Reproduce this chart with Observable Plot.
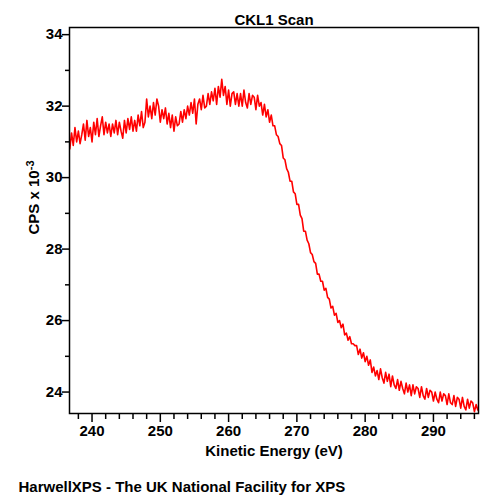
<!DOCTYPE html>
<html>
<head>
<meta charset="utf-8">
<script src="https://cdn.jsdelivr.net/npm/d3@7"></script>
<script src="https://cdn.jsdelivr.net/npm/@observablehq/plot@0.6"></script>
<style>
  html, body { margin: 0; padding: 0; background: #fff; }
</style>
</head>
<body>
<div id="chart"></div>
<script>
const titleText = "CKL1 Scan";
const xLabel = "Kinetic Energy (eV)";
const yLabelMain = "CPS x 10";
const yLabelSup = "-3";
const caption = "HarwellXPS - The UK National Facility for XPS";

const xMajor = [240, 250, 260, 270, 280, 290];
const xMinor = [238, 242, 244, 246, 248, 252, 254, 256, 258, 262, 264, 266, 268, 272, 274, 276, 278, 282, 284, 286, 288, 292, 294, 296];
const yMajor = [24, 26, 28, 30, 32, 34];
const yMinor = [25, 27, 29, 31, 33];

const energy = [
  236.75,237,237.25,237.5,
  237.75,238,238.25,238.5,
  238.75,239,239.25,239.5,
  239.75,240,240.25,240.5,
  240.75,241,241.25,241.5,
  241.75,242,242.25,242.5,
  242.75,243,243.25,243.5,
  243.75,244,244.25,244.5,
  244.75,245,245.25,245.5,
  245.75,246,246.25,246.5,
  246.75,247,247.25,247.5,
  247.75,248,248.25,248.5,
  248.75,249,249.25,249.5,
  249.75,250,250.25,250.5,
  250.75,251,251.25,251.5,
  251.75,252,252.25,252.5,
  252.75,253,253.25,253.5,
  253.75,254,254.25,254.5,
  254.75,255,255.25,255.5,
  255.75,256,256.25,256.5,
  256.75,257,257.25,257.5,
  257.75,258,258.25,258.5,
  258.75,259,259.25,259.5,
  259.75,260,260.25,260.5,
  260.75,261,261.25,261.5,
  261.75,262,262.25,262.5,
  262.75,263,263.25,263.5,
  263.75,264,264.25,264.5,
  264.75,265,265.25,265.5,
  265.75,266,266.25,266.5,
  266.75,267,267.25,267.5,
  267.75,268,268.25,268.5,
  268.75,269,269.25,269.5,
  269.75,270,270.25,270.5,
  270.75,271,271.25,271.5,
  271.75,272,272.25,272.5,
  272.75,273,273.25,273.5,
  273.75,274,274.25,274.5,
  274.75,275,275.25,275.5,
  275.75,276,276.25,276.5,
  276.75,277,277.25,277.5,
  277.75,278,278.25,278.5,
  278.75,279,279.25,279.5,
  279.75,280,280.25,280.5,
  280.75,281,281.25,281.5,
  281.75,282,282.25,282.5,
  282.75,283,283.25,283.5,
  283.75,284,284.25,284.5,
  284.75,285,285.25,285.5,
  285.75,286,286.25,286.5,
  286.75,287,287.25,287.5,
  287.75,288,288.25,288.5,
  288.75,289,289.25,289.5,
  289.75,290,290.25,290.5,
  290.75,291,291.25,291.5,
  291.75,292,292.25,292.5,
  292.75,293,293.25,293.5,
  293.75,294,294.25,294.5,
  294.75,295,295.25,295.5,
  295.75,296,296.25,296.5
];

const cps = [
  30.8,31.25,30.9,31.4,
  31.0,31.3,30.95,31.2,
  31.5,31.05,31.6,31.15,
  31.4,31.0,31.55,31.2,
  31.65,31.15,31.45,31.7,
  31.2,31.55,31.25,31.5,
  31.15,31.5,31.25,31.6,
  31.2,31.55,31.3,31.1,
  31.6,31.25,31.65,31.35,
  31.7,31.3,31.6,31.3,
  31.75,31.45,31.85,31.4,
  31.55,32.2,31.7,32.0,
  31.65,32.1,31.75,32.2,
  32.0,31.55,31.9,31.65,
  31.95,31.5,31.8,31.4,
  31.75,31.3,31.7,31.45,
  31.5,31.85,31.55,31.9,
  31.65,32.0,31.75,32.1,
  31.8,32.2,31.5,32.05,
  32.2,31.9,32.3,31.95,
  32.0,32.35,32.05,32.4,
  32.15,32.5,32.05,32.55,
  32.25,32.75,32.3,32.55,
  32.05,32.45,32.0,32.35,
  32.4,32.05,32.35,32.0,
  32.35,32.0,32.45,32.1,
  31.95,32.35,32.05,32.3,
  32.25,31.9,32.3,32.0,
  32.1,31.75,32.05,31.7,
  31.9,31.55,31.75,31.45,
  31.45,31.2,31.15,30.95,
  30.9,30.55,30.5,30.25,
  30.15,29.9,29.9,29.6,
  29.55,29.25,29.25,28.95,
  28.85,28.5,28.5,28.25,
  28.15,27.9,27.85,27.65,
  27.6,27.3,27.3,27.1,
  27.1,26.85,26.9,26.65,
  26.6,26.35,26.4,26.15,
  26.2,25.95,26.0,25.8,
  25.9,25.6,25.65,25.45,
  25.55,25.35,25.35,25.3,
  25.3,25.05,25.2,24.95,
  25.1,24.85,25.0,24.75,
  24.9,24.55,24.7,24.45,
  24.6,24.35,24.65,24.4,
  24.25,24.55,24.3,24.5,
  24.15,24.45,24.2,24.1,
  24.35,24.05,24.3,24.1,
  23.95,24.25,24.0,24.2,
  23.9,24.2,23.95,24.15,
  24.1,23.85,24.15,23.9,
  23.8,24.1,23.85,24.05,
  24.0,23.75,24.0,23.8,
  23.7,24.0,23.75,23.95,
  23.9,23.65,23.95,23.7,
  23.65,23.9,23.6,23.85,
  23.8,23.55,23.85,23.6,
  23.5,23.8,23.55,23.75,
  23.7,23.45,23.65,23.5
];

const data = energy.map((e, i) => ({energy: e, cps: cps[i]}));

const chart = Plot.plot({
  width: 500,
  height: 500,
  marginLeft: 69,
  marginRight: 22,
  marginTop: 27,
  marginBottom: 87,
  style: {fontFamily: "'Liberation Sans', Arial, sans-serif", fontSize: "15px", fontWeight: "bold", color: "black", background: "white", overflow: "visible"},
  x: {domain: [236.7, 296.6], label: null},
  y: {domain: [23.4, 34.2], label: null},
  marks: [
    Plot.axisX(xMinor, {tickSize: 6, text: null, stroke: "black", strokeWidth: 1.5, strokeOpacity: 1, label: null}),
    Plot.axisX(xMajor, {tickSize: 9, tickPadding: 3, tickFormat: d => String(d), stroke: "black", strokeWidth: 1.5, strokeOpacity: 1, fill: "black", label: null}),
    Plot.axisY(yMinor, {tickSize: 4, text: null, stroke: "black", strokeWidth: 1.5, strokeOpacity: 1, label: null}),
    Plot.axisY(yMajor, {tickSize: 7, tickPadding: 0, tickFormat: d => String(d), stroke: "black", strokeWidth: 1.5, strokeOpacity: 1, fill: "black", label: null}),
    Plot.line(data, {x: "energy", y: "cps", stroke: "#ff0000", strokeWidth: 1.6}),
    Plot.frame({stroke: "black", strokeWidth: 1.5}),
    Plot.text([titleText], {text: d => d, frameAnchor: "top", textAnchor: "middle", lineAnchor: "bottom", dy: -3, fontSize: 15, fontWeight: "bold", fill: "black"}),
    Plot.text([xLabel], {text: d => d, frameAnchor: "bottom", textAnchor: "middle", lineAnchor: "top", dy: 32, fontSize: 15, fontWeight: "bold", fill: "black"}),
    Plot.text([caption], {text: d => d, frameAnchor: "bottom-left", textAnchor: "start", lineAnchor: "top", dx: -51, dy: 68, fontSize: 15, fontWeight: "bold", fill: "black"}),
    Plot.text([yLabelMain + yLabelSup], {text: d => d, frameAnchor: "left", textAnchor: "middle", rotate: -90, lineAnchor: "middle", dx: -35, dy: -23, fontSize: 15, fontWeight: "bold", fill: "black"})
  ]
});

document.getElementById("chart").appendChild(chart);

// set the exponent as a superscript
d3.select(chart).selectAll("text").each(function() {
  if (this.textContent === yLabelMain + yLabelSup) {
    const t = d3.select(this);
    t.text(null);
    t.append("tspan").text(yLabelMain);
    t.append("tspan").attr("dy", "-0.5em").attr("font-size", "11px").text(yLabelSup);
  }
});
</script>
</body>
</html>
